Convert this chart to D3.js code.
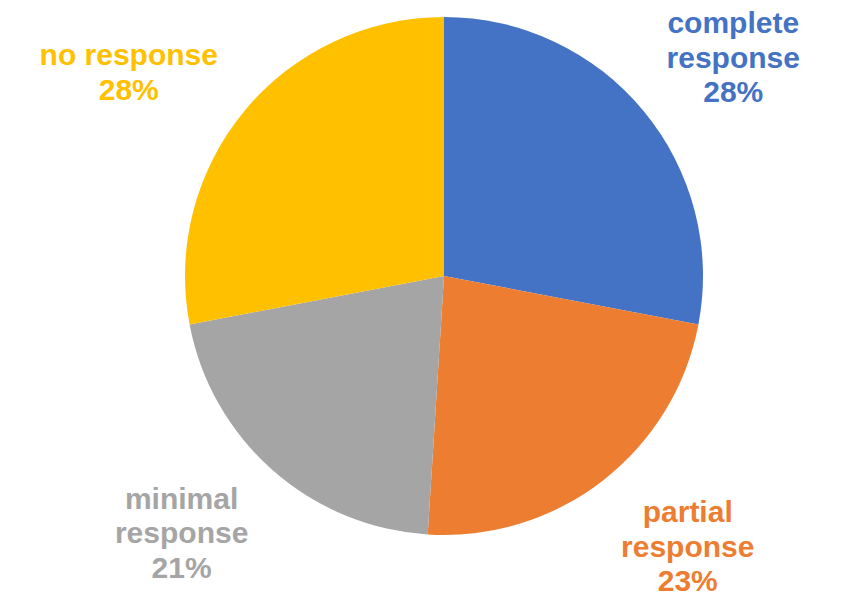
<!DOCTYPE html>
<html>
<head>
<meta charset="utf-8">
<script src="https://cdn.jsdelivr.net/npm/d3@7"></script>
<style>
  body { margin: 0; background: #fff; }
  text { font-family: "Liberation Sans", Arial, sans-serif; font-weight: bold; }
</style>
</head>
<body>
<div id="chart"></div>
<script>
// response categories, clockwise from 12 o'clock
const categories = ["complete response", "partial response", "minimal response", "no response"];
const values = [28, 23, 21, 28];
const labelLines = [["complete", "response"], ["partial", "response"], ["minimal", "response"], ["no response"]];
const colors = ["#4472C4", "#ED7D31", "#A5A5A5", "#FFC000"];

// label placement: nudge from centroid on the label ring
const labelNudge = [[8, -10], [20, -42], [-21, -41], [-34, 22]];

const width = 859, height = 597;
const cx = 444, cy = 276, radius = 259, labelRadius = 365;
const lineH = 34.5;

const svg = d3.select("#chart").append("svg")
    .attr("width", width)
    .attr("height", height);

const g = svg.append("g")
    .attr("transform", "translate(" + cx + "," + cy + ")");

const pie = d3.pie().sort(null).value(d => d.value);
const arcs = pie(categories.map((c, i) => ({ name: c, value: values[i], i: i })));

const arc = d3.arc().innerRadius(0).outerRadius(radius);
const labelArc = d3.arc().innerRadius(labelRadius).outerRadius(labelRadius);

g.selectAll("path")
    .data(arcs)
    .enter().append("path")
    .attr("d", arc)
    .attr("fill", d => colors[d.data.i]);

const total = d3.sum(values);

const labels = g.selectAll("text.lbl")
    .data(arcs)
    .enter().append("text")
    .attr("class", "lbl")
    .attr("text-anchor", "middle")
    .attr("font-size", 30)
    .attr("fill", d => colors[d.data.i])
    .attr("transform", d => {
        let c = labelArc.centroid(d);
        let n = labelNudge[d.data.i];
        return "translate(" + (c[0] + n[0]) + "," + (c[1] + n[1]) + ")";
    });

labels.each(function(d) {
    let lines = labelLines[d.data.i].concat([Math.round(d.data.value / total * 100) + "%"]);
    d3.select(this).selectAll("tspan")
        .data(lines)
        .enter().append("tspan")
        .attr("x", 0)
        .attr("y", (l, j) => j * lineH)
        .text(l => l);
});
</script>
</body>
</html>
